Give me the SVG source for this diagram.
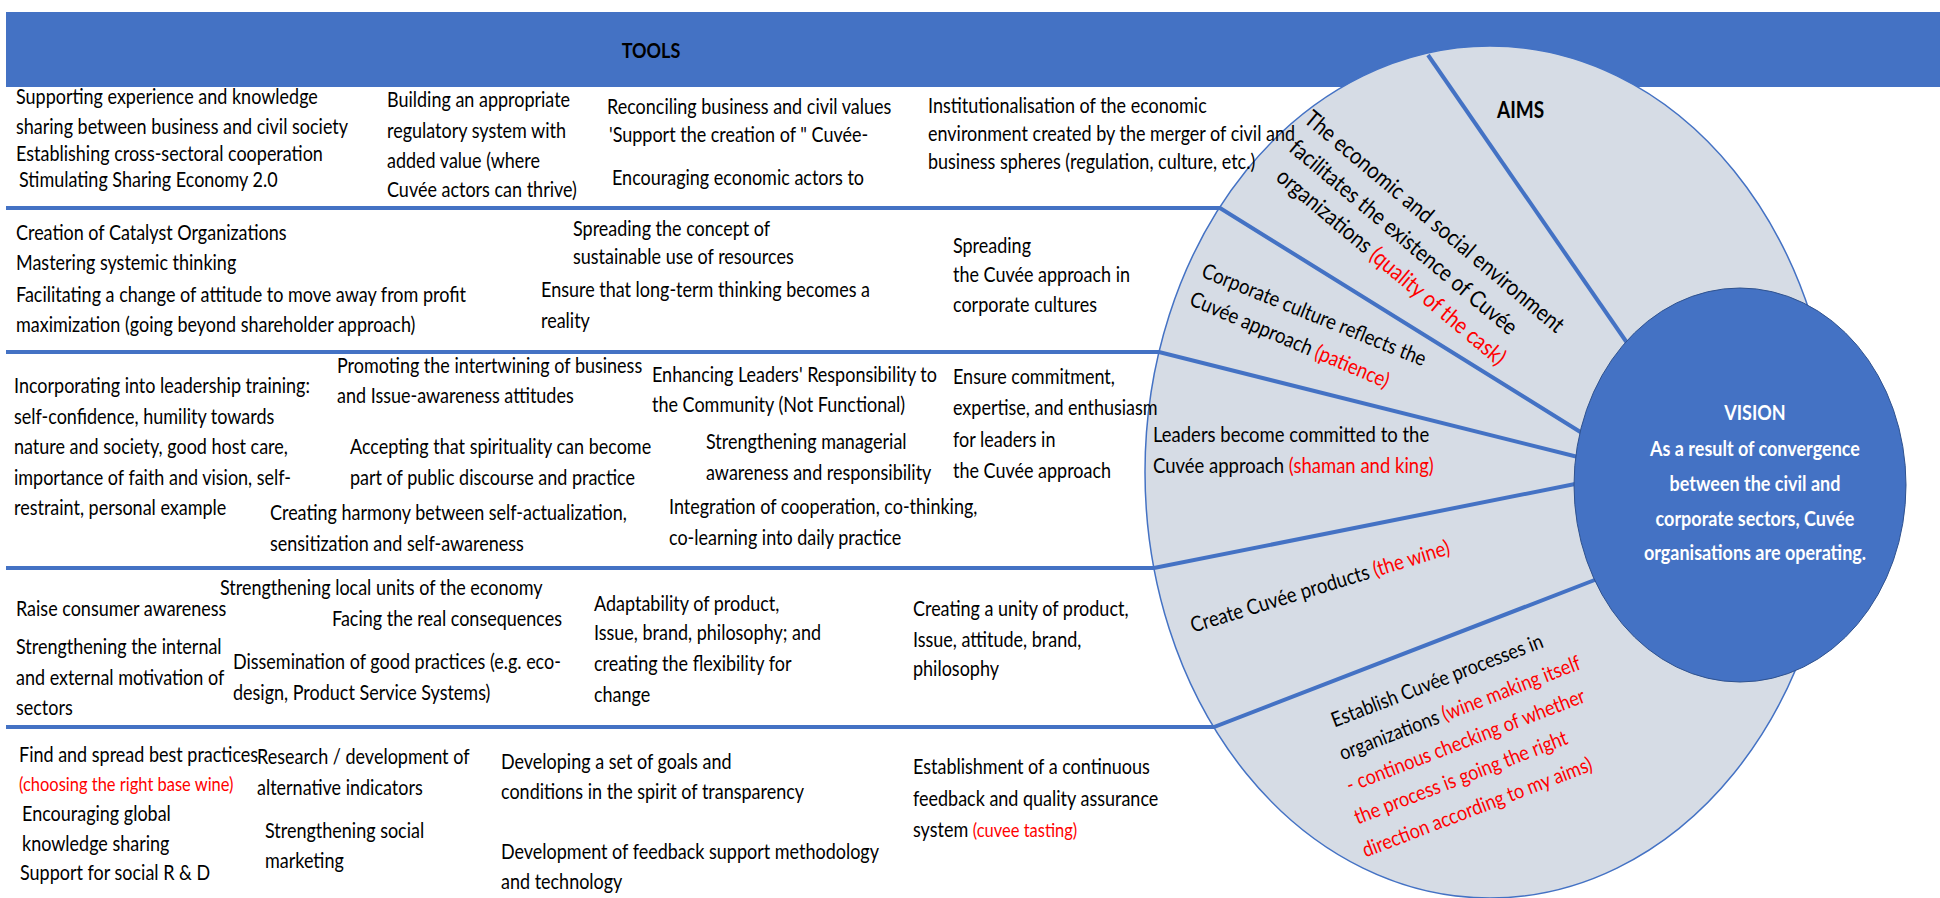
<svg xmlns="http://www.w3.org/2000/svg" width="1940" height="898" viewBox="0 0 1940 898">
<style>
.t{font-family:Lato,"Liberation Sans",sans-serif;font-size:18px;fill:#000;transform-box:fill-box;transform-origin:0 50%;transform:scaleY(1.15)}
.r{fill:#FF0000}
.sm{font-size:16.5px}
.b{font-weight:bold}
.w{fill:#fff;font-weight:bold;font-size:18px}
.rt{font-size:20px}
.m{font-size:18.5px}
.ln{fill:none;stroke:#4472C4;stroke-width:4}
</style>
<rect width="1940" height="898" fill="#fff"/>
<g id="header"><rect x="6" y="12" width="1934" height="75" fill="#4472C4"/>
<text class="t b" x="651" y="57" text-anchor="middle" style="transform-origin:50% 50%">TOOLS</text></g>
<g id="aims-ellipse"><ellipse cx="1490" cy="472" rx="345" ry="426" fill="#D6DCE5" stroke="#4472C4" stroke-width="1.5"/></g>
<g id="connectors">
<path class="ln" d="M1428,55 L1632,350"/>
<path class="ln" d="M6,208 H1220 L1590,438"/>
<path class="ln" d="M6,352 H1159 L1590,460"/>
<path class="ln" d="M6,568 H1154 L1590,481"/>
<path class="ln" d="M6,727 H1214 L1605,576"/>
</g>
<g id="vision"><ellipse cx="1740" cy="485" rx="166" ry="197" fill="#4472C4" stroke="#2F528F" stroke-width="1"/>
<text class="t w" text-anchor="middle" style="transform-origin:50% 50%"><tspan x="1755" y="428">VISION</tspan><tspan x="1755" y="459">As a result of convergence</tspan><tspan x="1755" y="490">between the civil and</tspan><tspan x="1755" y="520">corporate sectors, Cuvée</tspan><tspan x="1755" y="550">organisations are operating.</tspan></text></g>
<g id="aims-label"><text class="t b" x="1497" y="117" style="font-size:19px">AIMS</text></g>
<g id="aim1">
<g transform="translate(1308,115) rotate(40)"><text class="t rt" x="0" y="7">The economic and social environment</text></g>
<g transform="translate(1293,144) rotate(40)"><text class="t rt" x="0" y="7">facilitates the existence of Cuvée</text></g>
<g transform="translate(1280,173) rotate(40)"><text class="t rt" x="0" y="7">organizations <tspan class="r">(quality of the cask)</tspan></text></g>
</g>
<g id="aim2">
<g transform="translate(1203,270) rotate(22)"><text class="t m" x="0" y="6">Corporate culture reflects the</text></g>
<g transform="translate(1191,298) rotate(23)"><text class="t m" x="0" y="6">Cuvée approach <tspan class="r">(patience)</tspan></text></g>
</g>
<g id="aim3"><text class="t m" x="1153" y="441">Leaders become committed to the</text><text class="t m" x="1153" y="472">Cuvée approach <tspan class="r">(shaman and king)</tspan></text></g>
<g id="aim4"><g transform="translate(1191,626) rotate(-17)"><text class="t m" x="0" y="6">Create Cuvée products <tspan class="r">(the wine)</tspan></text></g></g>
<g id="aim5">
<g transform="translate(1332,721) rotate(-21)"><text class="t" x="0" y="6">Establish Cuvée processes in</text></g>
<g transform="translate(1340,754) rotate(-21)"><text class="t" x="0" y="6">organizations <tspan class="r">(wine making itself</tspan></text></g>
<g transform="translate(1347,786) rotate(-21)"><text class="t r" x="0" y="6">- continous checking of whether</text></g>
<g transform="translate(1355,818) rotate(-21)"><text class="t r" x="0" y="6">the process is going the right</text></g>
<g transform="translate(1363,851) rotate(-21)"><text class="t r" x="0" y="6">direction according to my aims)</text></g>
</g>
<g id="row1">
<text class="t" x="16" y="103">Supporting experience and knowledge</text>
<text class="t" x="16" y="133">sharing between business and civil society</text>
<text class="t" x="16" y="160">Establishing cross-sectoral cooperation</text>
<text class="t" x="19" y="186">Stimulating Sharing Economy 2.0</text>
<text class="t" x="387" y="106">Building an appropriate</text>
<text class="t" x="387" y="137">regulatory system with</text>
<text class="t" x="387" y="167">added value (where</text>
<text class="t" x="387" y="196">Cuvée actors can thrive)</text>
<text class="t" x="607" y="113">Reconciling business and civil values</text>
<text class="t" x="609" y="141">'Support the creation of " Cuvée-</text>
<text class="t" x="612" y="184">Encouraging economic actors to</text>
<text class="t" x="928" y="112">Institutionalisation of the economic</text>
<text class="t" x="928" y="140">environment created by the merger of civil and</text>
<text class="t" x="928" y="168">business spheres (regulation, culture, etc.)</text>
</g>
<g id="row2">
<text class="t" x="16" y="239">Creation of Catalyst Organizations</text>
<text class="t" x="16" y="269">Mastering systemic thinking</text>
<text class="t" x="16" y="301">Facilitating a change of attitude to move away from profit</text>
<text class="t" x="16" y="331">maximization (going beyond shareholder approach)</text>
<text class="t" x="573" y="235">Spreading the concept of</text>
<text class="t" x="573" y="263">sustainable use of resources</text>
<text class="t" x="541" y="296">Ensure that long-term thinking becomes a</text>
<text class="t" x="541" y="327">reality</text>
<text class="t" x="953" y="252">Spreading</text>
<text class="t" x="953" y="281">the Cuvée approach in</text>
<text class="t" x="953" y="311">corporate cultures</text>
</g>
<g id="row3">
<text class="t" x="14" y="392">Incorporating into leadership training:</text>
<text class="t" x="14" y="423">self-confidence, humility towards</text>
<text class="t" x="14" y="453">nature and society, good host care,</text>
<text class="t" x="14" y="484">importance of faith and vision, self-</text>
<text class="t" x="14" y="514">restraint, personal example</text>
<text class="t" x="337" y="372">Promoting the intertwining of business</text>
<text class="t" x="337" y="402">and Issue-awareness attitudes</text>
<text class="t" x="350" y="453">Accepting that spirituality can become</text>
<text class="t" x="350" y="484">part of public discourse and practice</text>
<text class="t" x="270" y="519">Creating harmony between self-actualization,</text>
<text class="t" x="270" y="550">sensitization and self-awareness</text>
<text class="t" x="652" y="381">Enhancing Leaders' Responsibility to</text>
<text class="t" x="652" y="411">the Community (Not Functional)</text>
<text class="t" x="706" y="448">Strengthening managerial</text>
<text class="t" x="706" y="479">awareness and responsibility</text>
<text class="t" x="669" y="513">Integration of cooperation, co-thinking,</text>
<text class="t" x="669" y="544">co-learning into daily practice</text>
<text class="t" x="953" y="383">Ensure commitment,</text>
<text class="t" x="953" y="414">expertise, and enthusiasm</text>
<text class="t" x="953" y="446">for leaders in</text>
<text class="t" x="953" y="477">the Cuvée approach</text>
</g>
<g id="row4">
<text class="t" x="220" y="594">Strengthening local units of the economy</text>
<text class="t" x="16" y="615">Raise consumer awareness</text>
<text class="t" x="332" y="625">Facing the real consequences</text>
<text class="t" x="16" y="653">Strengthening the internal</text>
<text class="t" x="16" y="684">and external motivation of</text>
<text class="t" x="16" y="714">sectors</text>
<text class="t" x="233" y="668">Dissemination of good practices (e.g. eco-</text>
<text class="t" x="233" y="699">design, Product Service Systems)</text>
<text class="t" x="594" y="610">Adaptability of product,</text>
<text class="t" x="594" y="639">Issue, brand, philosophy; and</text>
<text class="t" x="594" y="670">creating the flexibility for</text>
<text class="t" x="594" y="701">change</text>
<text class="t" x="913" y="615">Creating a unity of product,</text>
<text class="t" x="913" y="646">Issue, attitude, brand,</text>
<text class="t" x="913" y="675">philosophy</text>
</g>
<g id="row5">
<text class="t" x="19" y="761">Find and spread best practices</text>
<text class="t r sm" x="19" y="790">(choosing the right base wine)</text>
<text class="t" x="22" y="820">Encouraging global</text>
<text class="t" x="22" y="850">knowledge sharing</text>
<text class="t" x="20" y="879">Support for social R &amp; D</text>
<text class="t" x="257" y="763">Research / development of</text>
<text class="t" x="257" y="794">alternative indicators</text>
<text class="t" x="265" y="837">Strengthening social</text>
<text class="t" x="265" y="867">marketing</text>
<text class="t" x="501" y="768">Developing a set of goals and</text>
<text class="t" x="501" y="798">conditions in the spirit of transparency</text>
<text class="t" x="501" y="858">Development of feedback support methodology</text>
<text class="t" x="501" y="888">and technology</text>
<text class="t" x="913" y="773">Establishment of a continuous</text>
<text class="t" x="913" y="805">feedback and quality assurance</text>
<text class="t" x="913" y="836">system <tspan class="r sm">(cuvee tasting)</tspan></text>
</g>
</svg>
